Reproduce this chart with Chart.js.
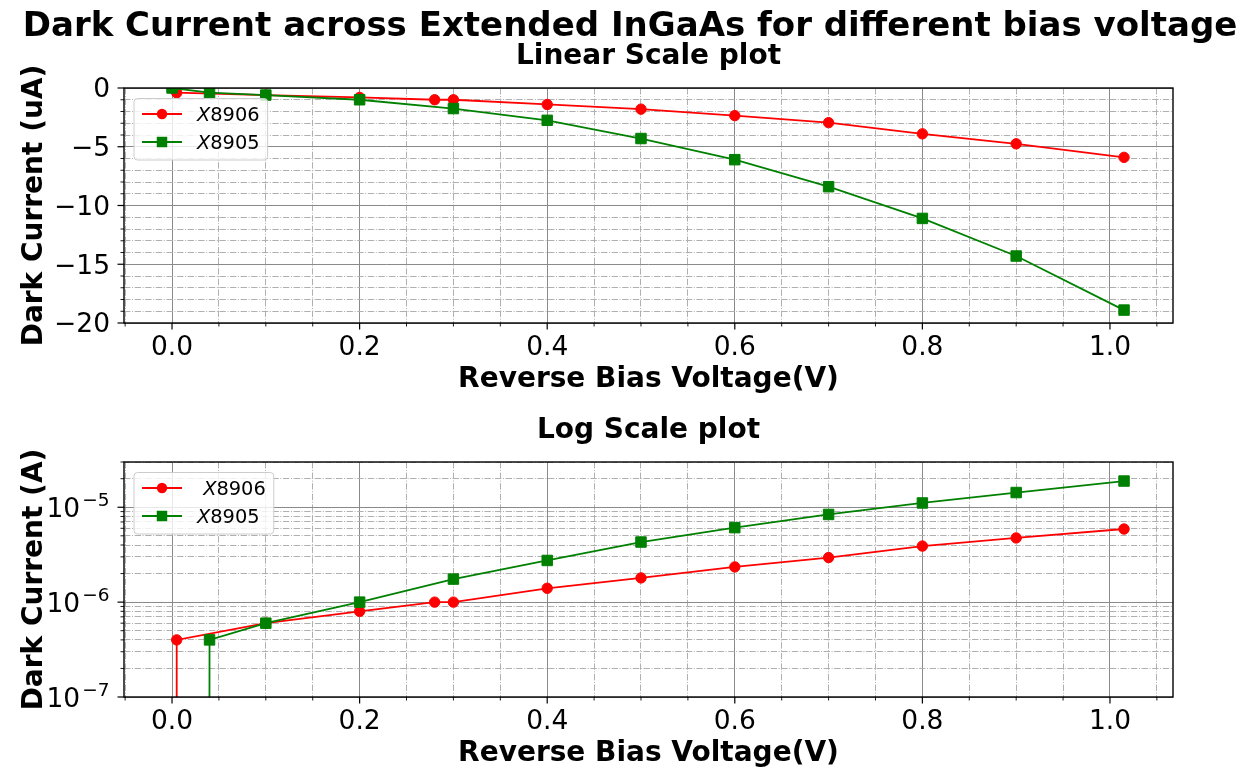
<!DOCTYPE html>
<html>
<head>
<meta charset="utf-8">
<script src="https://cdn.jsdelivr.net/npm/chart.js@4/dist/chart.umd.min.js"></script>
<style>
  html, body { margin: 0; padding: 0; background: #ffffff; }
  #fig { position: relative; width: 1250px; height: 771px; }
  #fig canvas { position: absolute; left: 0; top: 0; }
</style>
</head>
<body>
<div id="fig">
  <canvas id="linChart" width="1250" height="771"></canvas>
  <canvas id="logChart" width="1250" height="771"></canvas>
</div>
<script>
// ---- measurements -------------------------------------------------------
// reverse bias voltage (V) for each device
const VOLT_X8906 = [0, 0.005, 0.1, 0.2, 0.28, 0.3, 0.4, 0.5, 0.6, 0.7, 0.8, 0.9, 1.015];
const VOLT_X8905 = [0, 0.04, 0.1, 0.2, 0.3, 0.4, 0.5, 0.6, 0.7, 0.8, 0.9, 1.015];
// dark current (uA); negative because the diodes are reverse biased
const CUR_X8906 = [0, -0.4, -0.6, -0.8, -1.0, -1.0, -1.4, -1.8, -2.35, -2.95, -3.9, -4.75, -5.9];
const CUR_X8905 = [0, -0.4, -0.6, -1.0, -1.75, -2.75, -4.3, -6.1, -8.4, -11.1, -14.3, -18.9];

// legend entries
const LIN_LABELS = ['X8906', 'X8905'];
const LOG_LABELS = [' X8906', 'X8905'];

// tick labels
const X_MAJOR = [0, 0.2, 0.4, 0.6, 0.8, 1.0];
const X_TICK_LABELS = ['0.0', '0.2', '0.4', '0.6', '0.8', '1.0'];
const Y_LIN_MAJOR = [0, -5, -10, -15, -20];
const Y_LIN_LABELS = ['0', '\u22125', '\u221210', '\u221215', '\u221220'];
const LOG_DECADES = [-7, -6, -5];

// text
const FIG_TITLE = 'Dark Current across Extended InGaAs for different bias voltage';
const LIN_TITLE = 'Linear Scale plot';
const LOG_TITLE = 'Log Scale plot';
const X_TITLE = 'Reverse Bias Voltage(V)';
const LIN_Y_TITLE = 'Dark Current (uA)';
const LOG_Y_TITLE = 'Dark Current (A)';

// ---- styling ------------------------------------------------------------
const FONT = "'DejaVu Sans', 'Liberation Sans', sans-serif";
const RED = '#ff0000';
const GREEN = '#008000';
const GRID_MAJOR = '#8a8a8a';
const GRID_MINOR = '#b0b0b0';
const DASHDOT = [6.4, 1.6, 1.0, 1.6];
const TICK_FONT = 26.5;
const LABEL_FONT = 28;
const FIG_TITLE_FONT = 34;
const LEGEND_FONT = 19.4;
const X_MIN = -0.0512, X_MAX = 1.0672;
// log axes clip non-positive currents to a tiny floor (they fall off the bottom)
const LOG_FLOOR = 1e-300;

const near = (a, b) => Math.abs(a - b) <= 1e-9 * Math.max(1, Math.abs(b));
const isMajorTick = c => !!(c.tick && c.tick.major);

function xAxis(height) {
  return {
    type: 'linear', position: 'bottom', bounds: 'data', min: X_MIN, max: X_MAX,
    afterBuildTicks(s) {
      const t = [];
      for (let k = -1; k <= 21; k++) {
        const v = k / 20;
        t.push({ value: v, major: X_MAJOR.some(m => near(m, v)) });
      }
      s.ticks = t;
    },
    afterFit(s) { s.height = height; },
    grid: { drawTicks: false, lineWidth: 1, color: c => isMajorTick(c) ? GRID_MAJOR : GRID_MINOR },
    border: { display: false, dash: c => isMajorTick(c) ? [] : DASHDOT },
    ticks: {
      autoSkip: false, maxRotation: 0, minRotation: 0, padding: 9, color: '#000',
      font: { family: FONT, size: TICK_FONT },
      callback: v => { const i = X_MAJOR.findIndex(m => near(m, v)); return i < 0 ? '' : X_TICK_LABELS[i]; }
    }
  };
}

function yGridCommon() {
  return {
    grid: { drawTicks: false, lineWidth: 1, color: c => isMajorTick(c) ? GRID_MAJOR : GRID_MINOR },
    border: { display: false, dash: c => isMajorTick(c) ? [] : DASHDOT },
  };
}

function series(label, xs, ys, color, style, order) {
  return {
    label,
    data: xs.map((x, i) => ({ x, y: ys[i] })),
    borderColor: color, backgroundColor: color,
    pointBorderColor: color, pointBackgroundColor: color,
    borderWidth: 1.8, pointBorderWidth: 1,
    pointStyle: style, pointRadius: style === 'rect' ? 7.4 : 5.2,
    tension: 0, fill: false, order
  };
}

// spines, tick marks, titles, custom legend and log tick labels
function decorations(spec) {
  return {
    id: 'decorations',
    afterDatasetsDraw(chart) {
      const { ctx, chartArea: a } = chart;
      const xs = chart.scales.x, ys = chart.scales.y;
      ctx.save();
      ctx.strokeStyle = '#000';
      xs.ticks.forEach(t => {
        const p = xs.getPixelForValue(t.value);
        if (p < a.left - 0.5 || p > a.right + 0.5) return;
        ctx.lineWidth = t.major ? 1.2 : 0.9;
        ctx.beginPath(); ctx.moveTo(p, a.bottom); ctx.lineTo(p, a.bottom + (t.major ? 6.5 : 3.5)); ctx.stroke();
      });
      ys.ticks.forEach(t => {
        const p = ys.getPixelForValue(t.value);
        if (p < a.top - 0.5 || p > a.bottom + 0.5) return;
        ctx.lineWidth = t.major ? 1.2 : 0.9;
        ctx.beginPath(); ctx.moveTo(a.left, p); ctx.lineTo(a.left - (t.major ? 6.5 : 3.5), p); ctx.stroke();
      });
      ctx.lineWidth = 1.4;
      ctx.strokeRect(a.left, a.top, a.right - a.left, a.bottom - a.top);
      ctx.restore();
    },
    afterDraw(chart) {
      const { ctx, chartArea: a } = chart;
      const cx = (a.left + a.right) / 2;
      ctx.save();
      ctx.fillStyle = '#000';
      ctx.textBaseline = 'alphabetic';
      ctx.textAlign = 'center';
      if (spec.figTitle) {
        ctx.font = `bold ${FIG_TITLE_FONT}px ${FONT}`;
        ctx.fillText(spec.figTitle, 630, 36);
      }
      ctx.font = `bold ${LABEL_FONT}px ${FONT}`;
      ctx.fillText(spec.title, cx, a.top - 24.5);
      ctx.fillText(X_TITLE, cx, a.bottom + 64);
      ctx.save();
      ctx.translate(41.5, (a.top + a.bottom) / 2);
      ctx.rotate(-Math.PI / 2);
      ctx.fillText(spec.yTitle, 0, 0);
      ctx.restore();

      // power-of-ten labels for the log axis
      if (spec.logLabels) {
        const ys = chart.scales.y;
        const supSize = 18.5;
        LOG_DECADES.forEach(e => {
          const p = ys.getPixelForValue(Math.pow(10, e));
          const sup = '\u2212' + String(Math.abs(e));
          ctx.font = `${supSize}px ${FONT}`;
          const sw = ctx.measureText(sup).width;
          ctx.textAlign = 'left';
          const right = a.left - 14.5;
          ctx.fillText(sup, right - sw, p - 1);
          ctx.font = `${TICK_FONT}px ${FONT}`;
          ctx.textAlign = 'right';
          ctx.fillText('10', right - sw - 2, p + 9.8);
        });
      }

      // legend: line + marker handle, italic device letter
      const items = chart.data.datasets.map(d => ({
        label: d.label, color: d.borderColor, style: d.pointStyle, r: d.pointRadius
      }));
      const fN = `${LEGEND_FONT}px ${FONT}`, fI = `italic ${LEGEND_FONT}px ${FONT}`;
      const measure = s => {
        const lead = s.length - s.trimStart().length;
        const body = s.trimStart();
        ctx.font = fN; const wl = ctx.measureText(s.slice(0, lead)).width;
        ctx.font = fI; const wx = ctx.measureText(body[0]).width;
        ctx.font = fN; const wr = ctx.measureText(body.slice(1)).width;
        return { lead: wl, x: wx, rest: wr, body, total: wl + wx + wr };
      };
      const ms = items.map(it => measure(it.label));
      const left = a.left + 10, top = a.top + 10.5;
      const w = 63 + Math.max(...ms.map(m => m.total)) + 8, h = 61.5;
      ctx.beginPath();
      ctx.roundRect(left, top, w, h, 3.5);
      ctx.fillStyle = 'rgba(255,255,255,0.8)';
      ctx.fill();
      ctx.strokeStyle = '#cccccc'; ctx.lineWidth = 1;
      ctx.stroke();
      items.forEach((it, i) => {
        const y = top + 15.5 + i * 28;
        ctx.strokeStyle = it.color; ctx.fillStyle = it.color; ctx.lineWidth = 1.8;
        ctx.beginPath(); ctx.moveTo(left + 8, y); ctx.lineTo(left + 48, y); ctx.stroke();
        const mx = left + 28;
        if (it.style === 'rect') {
          const hs = it.r * Math.SQRT1_2;
          ctx.fillRect(mx - hs, y - hs, 2 * hs, 2 * hs);
        } else {
          ctx.beginPath(); ctx.arc(mx, y, it.r, 0, Math.PI * 2); ctx.fill();
        }
        const m = ms[i];
        const tx = left + 63;
        ctx.fillStyle = '#000';
        ctx.textAlign = 'left';
        ctx.font = fI; ctx.fillText(m.body[0], tx + m.lead, y + 7);
        ctx.font = fN; ctx.fillText(m.body.slice(1), tx + m.lead + m.x, y + 7);
      });
      ctx.restore();
    }
  };
}

const common = {
  responsive: false, animation: false, devicePixelRatio: 1, events: [],
  plugins: { legend: { display: false }, title: { display: false }, tooltip: { enabled: false } }
};

// ---- linear-scale panel -------------------------------------------------
new Chart(document.getElementById('linChart'), {
  type: 'line',
  data: {
    datasets: [
      series(LIN_LABELS[0], VOLT_X8906, CUR_X8906, RED, 'circle', 1),
      series(LIN_LABELS[1], VOLT_X8905, CUR_X8905, GREEN, 'rect', 0)
    ]
  },
  options: Object.assign({}, common, {
    layout: { autoPadding: false, padding: { top: 88, left: 0, right: 77, bottom: 0 } },
    scales: {
      x: xAxis(771 - 323),
      y: Object.assign({
        type: 'linear', position: 'left', bounds: 'data', min: -20, max: 0,
        afterBuildTicks(s) {
          const t = [];
          for (let v = -20; v <= 0; v++) t.push({ value: v, major: Y_LIN_MAJOR.includes(v) });
          s.ticks = t;
        },
        afterFit(s) { s.width = 124; },
        ticks: {
          autoSkip: false, padding: 14, labelOffset: 2.5, color: '#000', font: { family: FONT, size: TICK_FONT },
          callback: v => { const i = Y_LIN_MAJOR.findIndex(m => near(m, v)); return i < 0 ? '' : Y_LIN_LABELS[i]; }
        }
      }, yGridCommon())
    }
  }),
  plugins: [decorations({ figTitle: FIG_TITLE, title: LIN_TITLE, yTitle: LIN_Y_TITLE, logLabels: false })]
});

// ---- log-scale panel ----------------------------------------------------
const toAmps = cur => cur.map(v => { const a = -v * 1e-6; return a > 0 ? a : LOG_FLOOR; });

new Chart(document.getElementById('logChart'), {
  type: 'line',
  data: {
    datasets: [
      series(LOG_LABELS[0], VOLT_X8906, toAmps(CUR_X8906), RED, 'circle', 1),
      series(LOG_LABELS[1], VOLT_X8905, toAmps(CUR_X8905), GREEN, 'rect', 0)
    ]
  },
  options: Object.assign({}, common, {
    layout: { autoPadding: false, padding: { top: 462, left: 0, right: 77, bottom: 0 } },
    scales: {
      x: xAxis(771 - 697),
      y: Object.assign({
        type: 'logarithmic', position: 'left', bounds: 'data', min: 1e-7, max: 3e-5,
        afterBuildTicks(s) {
          const t = [];
          LOG_DECADES.forEach(e => {
            for (let m = 1; m <= 9; m++) {
              const v = m * Math.pow(10, e);
              if (v <= s.max * (1 + 1e-9)) t.push({ value: v, major: m === 1 });
            }
          });
          s.ticks = t;
        },
        afterFit(s) { s.width = 124; },
        ticks: { autoSkip: false, padding: 14, callback: () => '' }
      }, yGridCommon())
    }
  }),
  plugins: [decorations({ title: LOG_TITLE, yTitle: LOG_Y_TITLE, logLabels: true })]
});
</script>
</body>
</html>
